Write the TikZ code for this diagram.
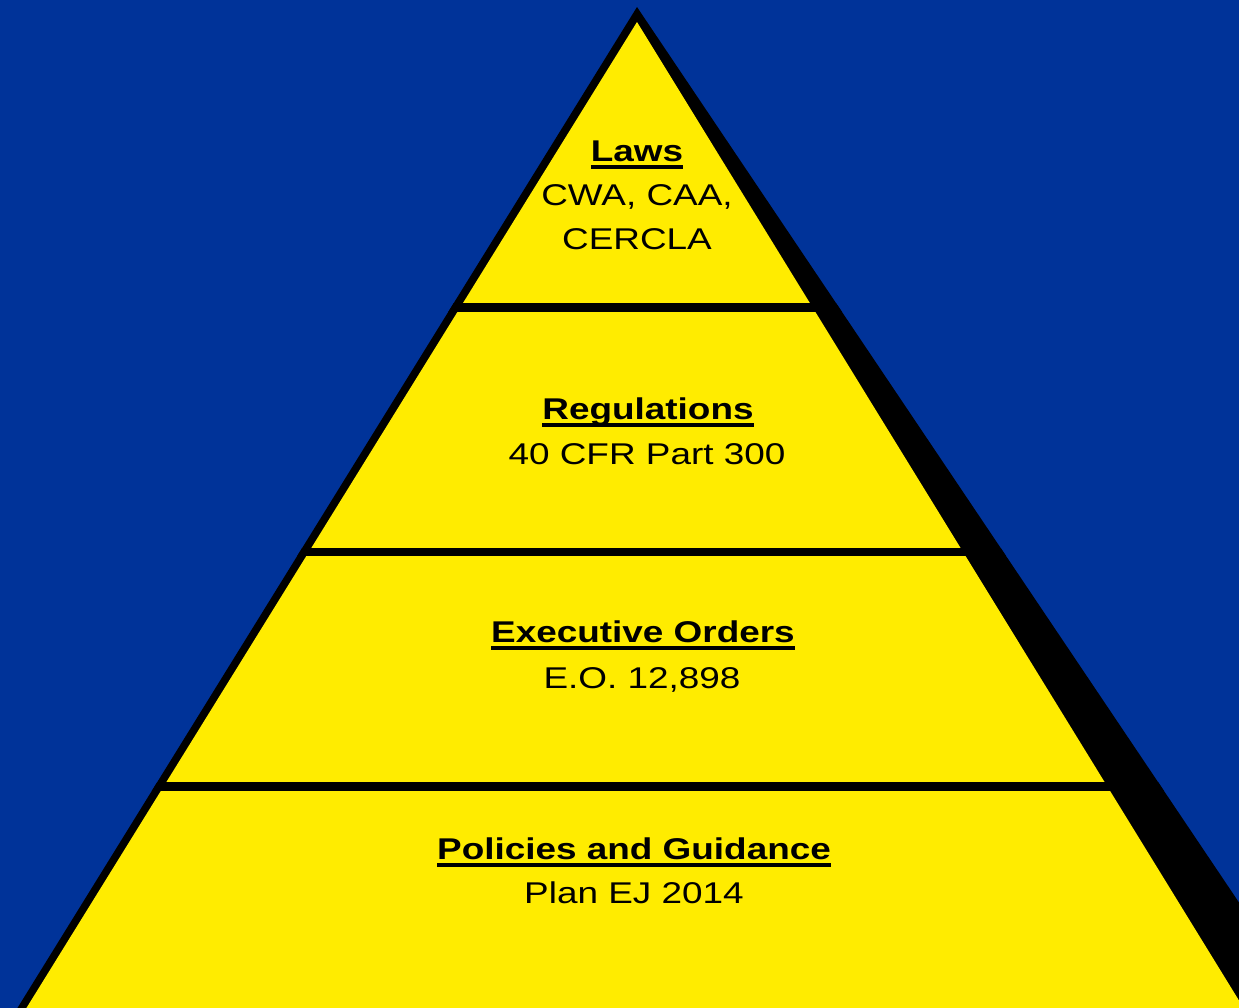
\documentclass[tikz,border=0pt]{standalone}
\usepackage{fontspec}
\setmainfont[FakeStretch=1.23]{Liberation Sans}
\definecolor{slideblue}{RGB}{0,51,153}
\definecolor{tieryellow}{RGB}{255,236,0}
% underlined bold heading of a tier
\newcommand\tierhead[1]{\setbox0\hbox{\bfseries #1}\rlap{\vrule height -2.1pt depth 3.8pt width \wd0}\box0}
\tikzset{
  tiertext/.style={anchor=base, inner sep=0pt, font=\fontsize{15}{18}\selectfont},
  tierbar/.style={line width=4.3pt}
}
\begin{document}
\begin{tikzpicture}[x=0.5pt, y=-0.5pt]
            \useasboundingbox (0,0) rectangle (1239,1008);
            \clip (0,0) rectangle (1239,1008);
            \fill[slideblue] (0,0) rectangle (1239,1008);  % background
            \fill[black] (637,7) -- (10,1020) -- (1318,1020) -- cycle;  % outline and shadow
            \fill[tieryellow] (637,22) -- (19,1020) -- (1251,1020) -- cycle;
            \begin{scope}
              \clip (637,7) -- (10,1020) -- (1318,1020) -- cycle;
              \draw[tierbar] (0,307.5) -- (1239,307.5);
              \draw[tierbar] (0,552) -- (1239,552);
              \draw[tierbar] (0,786.5) -- (1239,786.5);
            \end{scope}
            \node[tiertext] (lawshead) at (637,161) {\tierhead{Laws}};
            \node[tiertext] (lawsone) at (637,205) {CWA, CAA,};
            \node[tiertext] (lawstwo) at (637,249) {CERCLA};
            \node[tiertext] (regshead) at (648,419) {\tierhead{Regulations}};
            \node[tiertext] (regsone) at (647,464) {40 CFR Part 300};
            \node[tiertext] (eohead) at (643,642) {\tierhead{Executive Orders}};
            \node[tiertext] (eoone) at (642,688) {E.O. 12,898};
            \node[tiertext] (polhead) at (634,859) {\tierhead{Policies and Guidance}};
            \node[tiertext] (polone) at (634,903) {Plan EJ 2014};
        \end{tikzpicture}
\end{document}
